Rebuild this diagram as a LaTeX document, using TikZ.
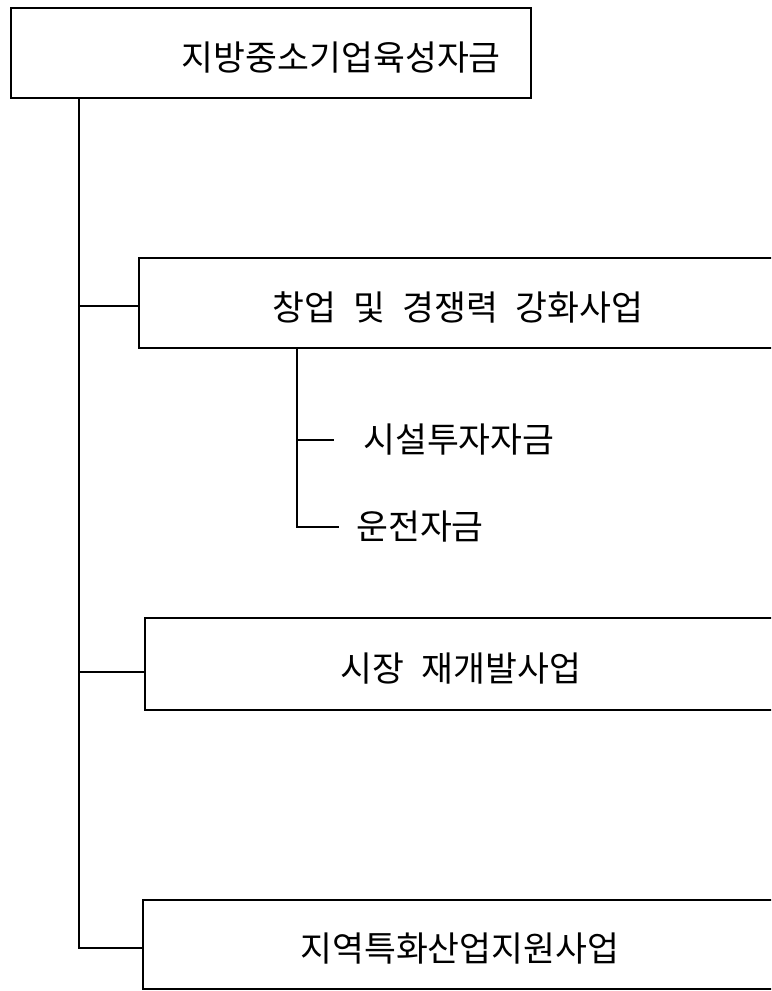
\documentclass[tikz,border=0pt]{standalone}
\usepackage{fontspec}
\setmainfont{Noto Sans CJK KR}[WordSpace=2.2]
\usetikzlibrary{positioning}

\tikzset{
    box/.style={draw=black, line width=1.3pt, anchor=north west, inner sep=0pt,
        text height=27pt, text depth=0.8pt},
    wire/.style={draw=black, line width=1.3pt},
    item/.style={anchor=west, inner sep=0pt},
}

\begin{document}
\begin{tikzpicture}[x=0.75pt, y=-0.75pt, font=\fontsize{26pt}{31pt}\selectfont]
    \clip (0,0) rectangle (771,991);
    % boxes
    \node (fund) [box, minimum width=390pt, minimum height=67.5pt,
        inner xsep=22.5pt, text width=345pt, align=right] at (10,7) {지방중소기업육성자금};
    \node (b2) [box, minimum width=478.5pt, minimum height=67.5pt] at (138,257) {창업 및 경쟁력 강화사업};
    \node (b3) [box, minimum width=474pt, minimum height=69pt] at (144,617) {시장 재개발사업};
    \node (b4) [box, minimum width=475.5pt, minimum height=66.75pt] at (142,899) {지역특화산업지원사업};
    % sub items
    \node (fac) [item] at (363,440) {시설투자자금};
    \node (run) [item] at (356,527) {운전자금};
    % trunk
    \coordinate (trunk) at ([xshift=51.75pt]fund.south west);
    \coordinate (j2) at ([yshift=-2.25pt]b2.west);
    \coordinate (j3) at ([yshift=-6pt]b3.west);
    \coordinate (j4) at ([yshift=-2.6pt]b4.west);
    \draw[wire] (trunk) |- (j4);
    \draw[wire] (j2 -| trunk) -- (j2);
    \draw[wire] (j3 -| trunk) -- (j3);
    % sub branch
    \coordinate (sub) at ([xshift=119.25pt]b2.south west);
    \draw[wire] (sub) |- ([xshift=-13pt]run.west);
    \draw[wire] (sub |- fac.west) -- ([xshift=-22pt]fac.west);
\end{tikzpicture}
\end{document}
